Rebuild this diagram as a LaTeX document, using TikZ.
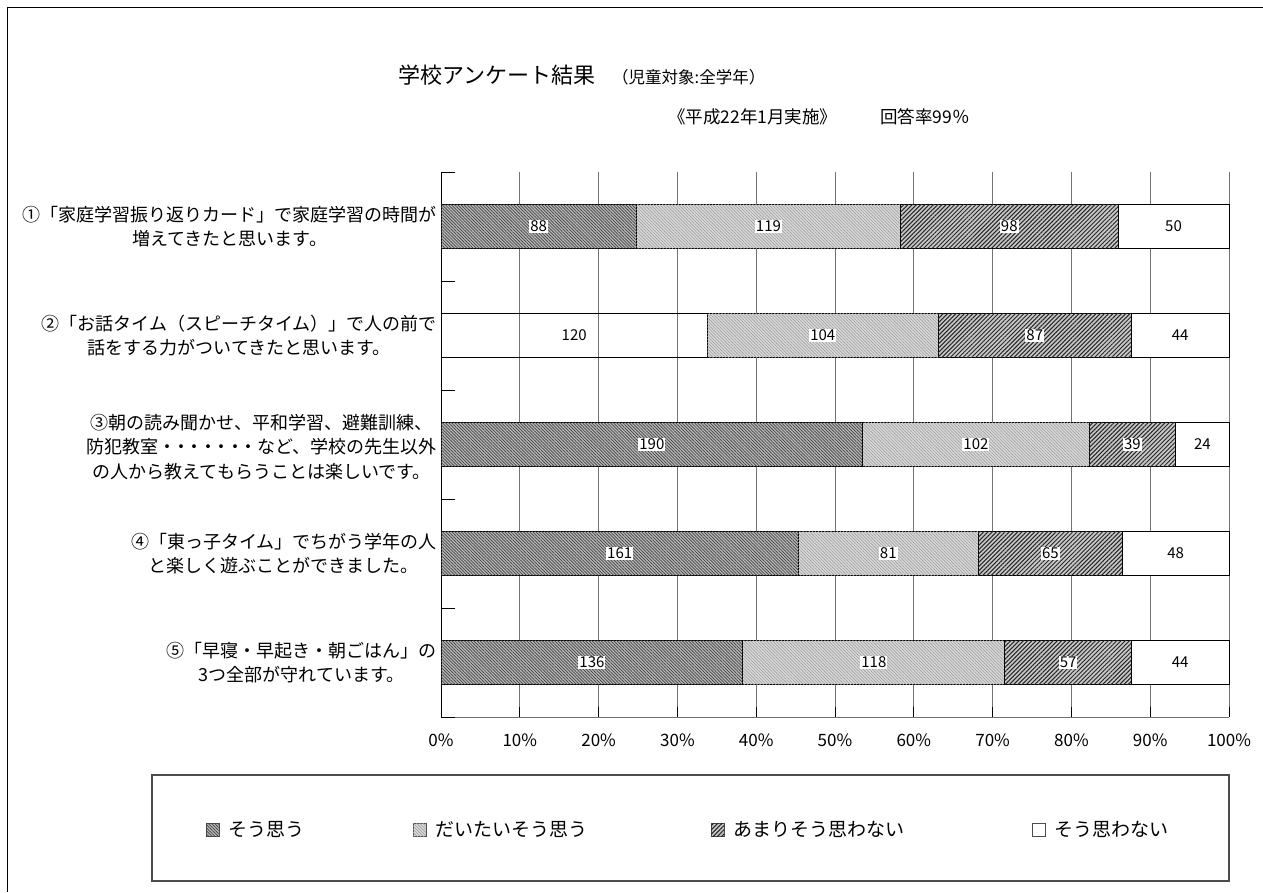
\documentclass[tikz,border=0pt]{standalone}
\usepackage{fontspec}
\setmainfont{Noto Sans CJK JP}
\usetikzlibrary{patterns.meta}
\newcommand\qbar[7]{%
  \pgfmathsetmacro\xa{441+2.219718*#3}%
  \pgfmathsetmacro\xb{441+2.219718*(#3+#4)}%
  \pgfmathsetmacro\xc{441+2.219718*(#3+#4+#5)}%
  \path[#7,barline] (441,#2-22) rectangle (\xa,#2+22);
  \path[segB,barline] (\xa,#2-22) rectangle (\xb,#2+22);
  \path[segC,barline] (\xb,#2-22) rectangle (\xc,#2+22);
  \path[segD,barline] (\xc,#2-22) rectangle (1229,#2+22);
  \node[val] (#1a) at ({(441+\xa)/2},#2) {#3};
  \node[val] (#1b) at ({(\xa+\xb)/2},#2) {#4};
  \node[val] (#1c) at ({(\xb+\xc)/2},#2) {#5};
  \node[val] (#1d) at ({(\xc+1229)/2},#2) {#6};
}
\newcommand\nd{・\kern-4.5pt}
\begin{document}
\begin{tikzpicture}[x=1pt,y=-1pt,
  segA/.style={fill=black!28,postaction={pattern={Lines[angle=-45,distance=2.2pt,line width=0.7pt]},pattern color=black!75}},
  segB/.style={fill=black!15,postaction={pattern={Lines[angle=-45,distance=2.2pt,line width=0.6pt]},pattern color=black!38}},
  segC/.style={fill=black!22,postaction={pattern={Lines[angle=45,distance=3pt,line width=1pt]},pattern color=black!85}},
  segD/.style={fill=white},
  segN/.style={},
  barline/.style={draw=black,line width=1pt},
  gridline/.style={draw=black!55,line width=1pt},
  val/.style={fill=white,inner sep=1pt,font=\fontsize{15}{15}\selectfont},
  qlabel/.style={anchor=east,align=center,inner sep=0pt,font=\fontsize{18}{24.5}\selectfont},
  axlabel/.style={inner sep=0pt,font=\fontsize{17}{17}\selectfont},
  legtext/.style={anchor=west,inner sep=0pt,font=\fontsize{19}{19}\selectfont},
  legsq/.style={draw=black!70,line width=0.6pt}
]
\useasboundingbox (0,0) rectangle (1263,892);
% outer frame
\draw[line width=1pt] (7,892) -- (7,7) -- (1263,7);
% titles
\node[anchor=west,inner sep=0pt,font=\fontsize{22}{22}\selectfont] (title) at (398,75) {学校アンケート結果};
\node[anchor=west,inner sep=0pt,font=\fontsize{16.5}{16.5}\selectfont] (target) at (612,77) {（児童対象:全学年）};
\node[anchor=west,inner sep=0pt,font=\fontsize{17.5}{17.5}\selectfont] (date) at (668,117) {《平成22年1月実施》};
\node[anchor=west,inner sep=0pt,font=\fontsize{17.5}{17.5}\selectfont] (rate) at (880,117) {回答率99％};
% grid
\foreach \i in {1,...,10} {
  \draw[gridline] ({441+78.8*\i},172) -- ({441+78.8*\i},717);
  \draw[line width=1pt] ({441+78.8*\i},717) -- ({441+78.8*\i},707);
}
\draw[gridline] (441,717) -- (1229,717);
\draw[line width=1pt] (441,172) -- (441,717);
\foreach \y in {172,281,390,499,608,717} \draw[line width=1pt] (441,\y) -- (455,\y);
% axis labels
\foreach \i in {0,...,10} {
  \pgfmathtruncatemacro\pc{10*\i}
  \node[axlabel] (ax\i) at ({441+78.8*\i},740) {\pc\%};
}
% bars
\qbar{q1}{226.5}{88}{119}{98}{50}{segA}
\qbar{q2}{335.5}{120}{104}{87}{44}{segN}
\qbar{q3}{444.5}{190}{102}{39}{24}{segA}
\qbar{q4}{553.5}{161}{81}{65}{48}{segA}
\qbar{q5}{662.5}{136}{118}{57}{44}{segA}
% question labels
\node[qlabel] (l1) at (437,226.5) {①「家庭学習振り返りカード」で家庭学習の時間が\\増えてきたと思います。};
\node[qlabel] (l2) at (437,335.5) {②「お話タイム（スピーチタイム）」で人の前で\\話をする力がついてきたと思います。};
\node[qlabel] (l3) at (437,447) {③朝の読み聞かせ、平和学習、避難訓練、\\防犯教室\nd\nd\nd\nd\nd\nd・など、学校の先生以外\\の人から教えてもらうことは楽しいです。};
\node[qlabel] (l4) at (437,553.5) {④「東っ子タイム」でちがう学年の人\\と楽しく遊ぶことができました。};
\node[qlabel] (l5) at (437,662.5) {⑤「早寝・早起き・朝ごはん」の\\3つ全部が守れています。};
% legend
\draw[draw=black!70,line width=1.5pt] (152,775) rectangle (1229,881);
\path[segA,legsq] (206,823) rectangle (219,836);
\node[legtext] (k1) at (228,829.5) {そう思う};
\path[segB,legsq] (413,823) rectangle (426,836);
\node[legtext] (k2) at (435,829.5) {だいたいそう思う};
\path[segC,legsq] (711,823) rectangle (724,836);
\node[legtext] (k3) at (733,829.5) {あまりそう思わない};
\path[segD,legsq] (1032,823) rectangle (1045,836);
\node[legtext] (k4) at (1054,829.5) {そう思わない};
\end{tikzpicture}
\end{document}
